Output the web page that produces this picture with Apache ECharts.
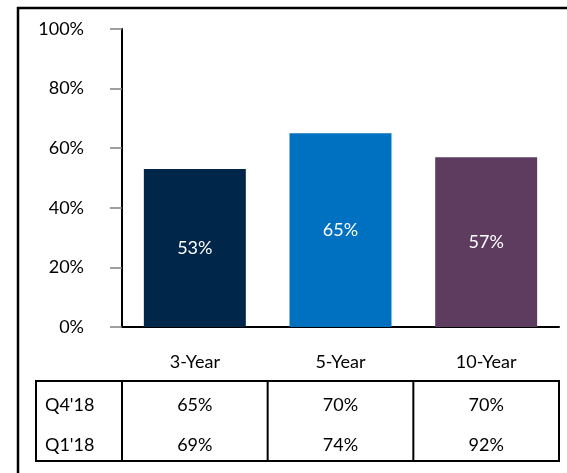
<!DOCTYPE html>
<html>
<head>
<meta charset="utf-8">
<script src="https://cdn.jsdelivr.net/npm/echarts@6/dist/echarts.min.js"></script>
<style>
  html, body { margin: 0; padding: 0; background: #fff; }
  #chart { width: 567px; height: 473px; }
</style>
</head>
<body>
<div id="chart"></div>
<script>
var categories = ['3-Year', '5-Year', '10-Year'];
var values = [53, 65, 57];
var barColors = ['#002649', '#0070C0', '#5E3C5F'];
var tableRows = ["Q4'18", "Q1'18"];
var q4Values = ['65%', '70%', '70%'];
var q1Values = ['69%', '74%', '92%'];

var FONT = 'Lato';
var FS = 18;
var chart = echarts.init(document.getElementById('chart'));

var option = {
  animation: false,
  textStyle: { fontFamily: FONT },
  grid: { left: 122, right: 8, top: 29, bottom: 146 },
  xAxis: {
    type: 'category',
    data: categories,
    axisLine: { lineStyle: { color: '#000', width: 2 } },
    axisTick: { show: false },
    axisLabel: { color: '#000', fontSize: FS, margin: 26, fontFamily: FONT }
  },
  yAxis: {
    type: 'value',
    min: 0,
    max: 100,
    interval: 20,
    splitLine: { show: false },
    axisLine: { show: true, lineStyle: { color: '#000', width: 2 } },
    axisTick: { show: true, length: 12, lineStyle: { color: '#808080', width: 1.5 } },
    axisLabel: { formatter: '{value}%', margin: 38, color: '#000', fontSize: FS, fontFamily: FONT }
  },
  series: [{
    type: 'bar',
    barCategoryGap: '30%',
    data: values.map(function (v, i) {
      return { value: v, itemStyle: { color: barColors[i] } };
    }),
    label: { show: true, position: 'inside', color: '#fff', fontSize: FS, fontFamily: FONT, formatter: '{c}%' }
  }]
};
chart.setOption(option);

// table under the chart, columns follow the category bands
var centers = categories.map(function (c) {
  return chart.convertToPixel({ xAxisIndex: 0 }, c);
});
var band = centers[1] - centers[0];
var tTop = 381, tBottom = 461, tLeft = 36;
var tRight = centers[centers.length - 1] + band / 2;
var rowY = [405, 445];
var els = [];

// outer frame
els.push({ type: 'rect', shape: { x: 18, y: 8, width: 620, height: 520 },
  style: { fill: null, stroke: '#000', lineWidth: 2.5 } });

els.push({ type: 'rect', shape: { x: tLeft, y: tTop, width: tRight - tLeft, height: tBottom - tTop },
  style: { fill: null, stroke: '#000', lineWidth: 2 } });
for (var i = 0; i < centers.length; i++) {
  var bx = centers[i] - band / 2;
  els.push({ type: 'line', shape: { x1: bx, y1: tTop, x2: bx, y2: tBottom },
    style: { stroke: '#000', lineWidth: 2 } });
}
var rowData = [q4Values, q1Values];
tableRows.forEach(function (name, r) {
  els.push({ type: 'text', x: 45, y: rowY[r],
    style: { text: name, font: FS + 'px ' + FONT, fill: '#000', verticalAlign: 'middle', align: 'left' } });
  rowData[r].forEach(function (txt, c) {
    els.push({ type: 'text', x: centers[c], y: rowY[r],
      style: { text: txt, font: FS + 'px ' + FONT, fill: '#000', verticalAlign: 'middle', align: 'center' } });
  });
});
chart.setOption({ graphic: { elements: els } });
</script>
</body>
</html>
